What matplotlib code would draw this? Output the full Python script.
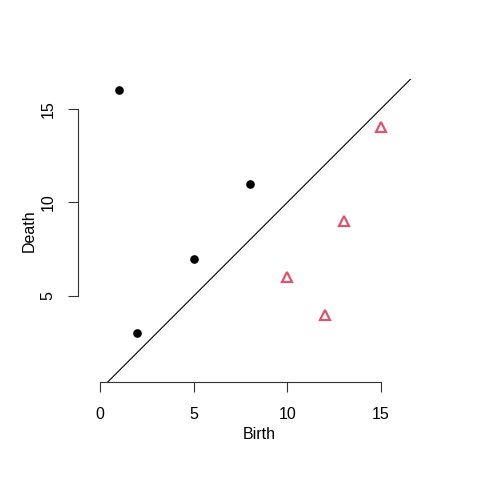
import matplotlib
matplotlib.use("Agg")
import matplotlib.pyplot as plt

# persistence diagram: dim 0 (black dots) and dim 1 (red triangles)
birth0 = [1, 2, 5, 8]
death0 = [16, 3, 7, 11]
birth1 = [10, 12, 13, 15]
death1 = [6, 4, 9, 14]
xticks = [0, 5, 10, 15]
yticks = [5, 10, 15]

plt.rcParams['font.family'] = ['Liberation Sans', 'DejaVu Sans']
fs = 11.5
W = 480.0

fig = plt.figure(figsize=(4.8, 4.8), dpi=100)
# plot region in pixels (R style, asp = 1)
left, right, top, bottom = 78.3, 440.0, 79.0, 382.0
ax = fig.add_axes([left / W, 1 - bottom / W, (right - left) / W, (bottom - top) / W])

scale = 18.73
x0 = -1.16
y0 = 0.41
ax.set_xlim(x0, x0 + (right - left) / scale)
ax.set_ylim(y0, y0 + (bottom - top) / scale)

ax.plot([-5, 30], [-5, 30], color='black', lw=0.8, clip_on=True)
ax.plot(birth0, death0, 'o', color='black', ms=5.2, mec='black')
ax.plot(birth1, death1, '^', color='none', mfc='none', mec='#DF536B', mew=1.6, ms=6.8)

for s in ['top', 'right']:
    ax.spines[s].set_visible(False)
ax.spines['bottom'].set_bounds(xticks[0], xticks[-1])
ax.spines['left'].set_bounds(yticks[0], yticks[-1])
for s in ['bottom', 'left']:
    ax.spines[s].set_linewidth(0.8)
    ax.spines[s].set_color('#333333')

ax.set_xticks(xticks)
ax.set_yticks(yticks)
ax.set_xticklabels([str(v) for v in xticks], fontsize=fs)
ax.set_yticklabels([str(v) for v in yticks], fontsize=fs, rotation=90, va='center')
ax.tick_params(axis='x', direction='out', length=7.2, width=0.8, color='#333333', pad=11.0)
ax.tick_params(axis='y', direction='out', length=7.2, width=0.8, color='#333333', pad=9.0)

fig.text(259.2 / W, 1 - 439 / W, 'Birth', ha='center', va='baseline', fontsize=fs)
fig.text(22 / W, 1 - 230.5 / W, 'Death', ha='left', va='center', rotation=90, fontsize=fs)

fig.savefig('out.png', dpi=100)
